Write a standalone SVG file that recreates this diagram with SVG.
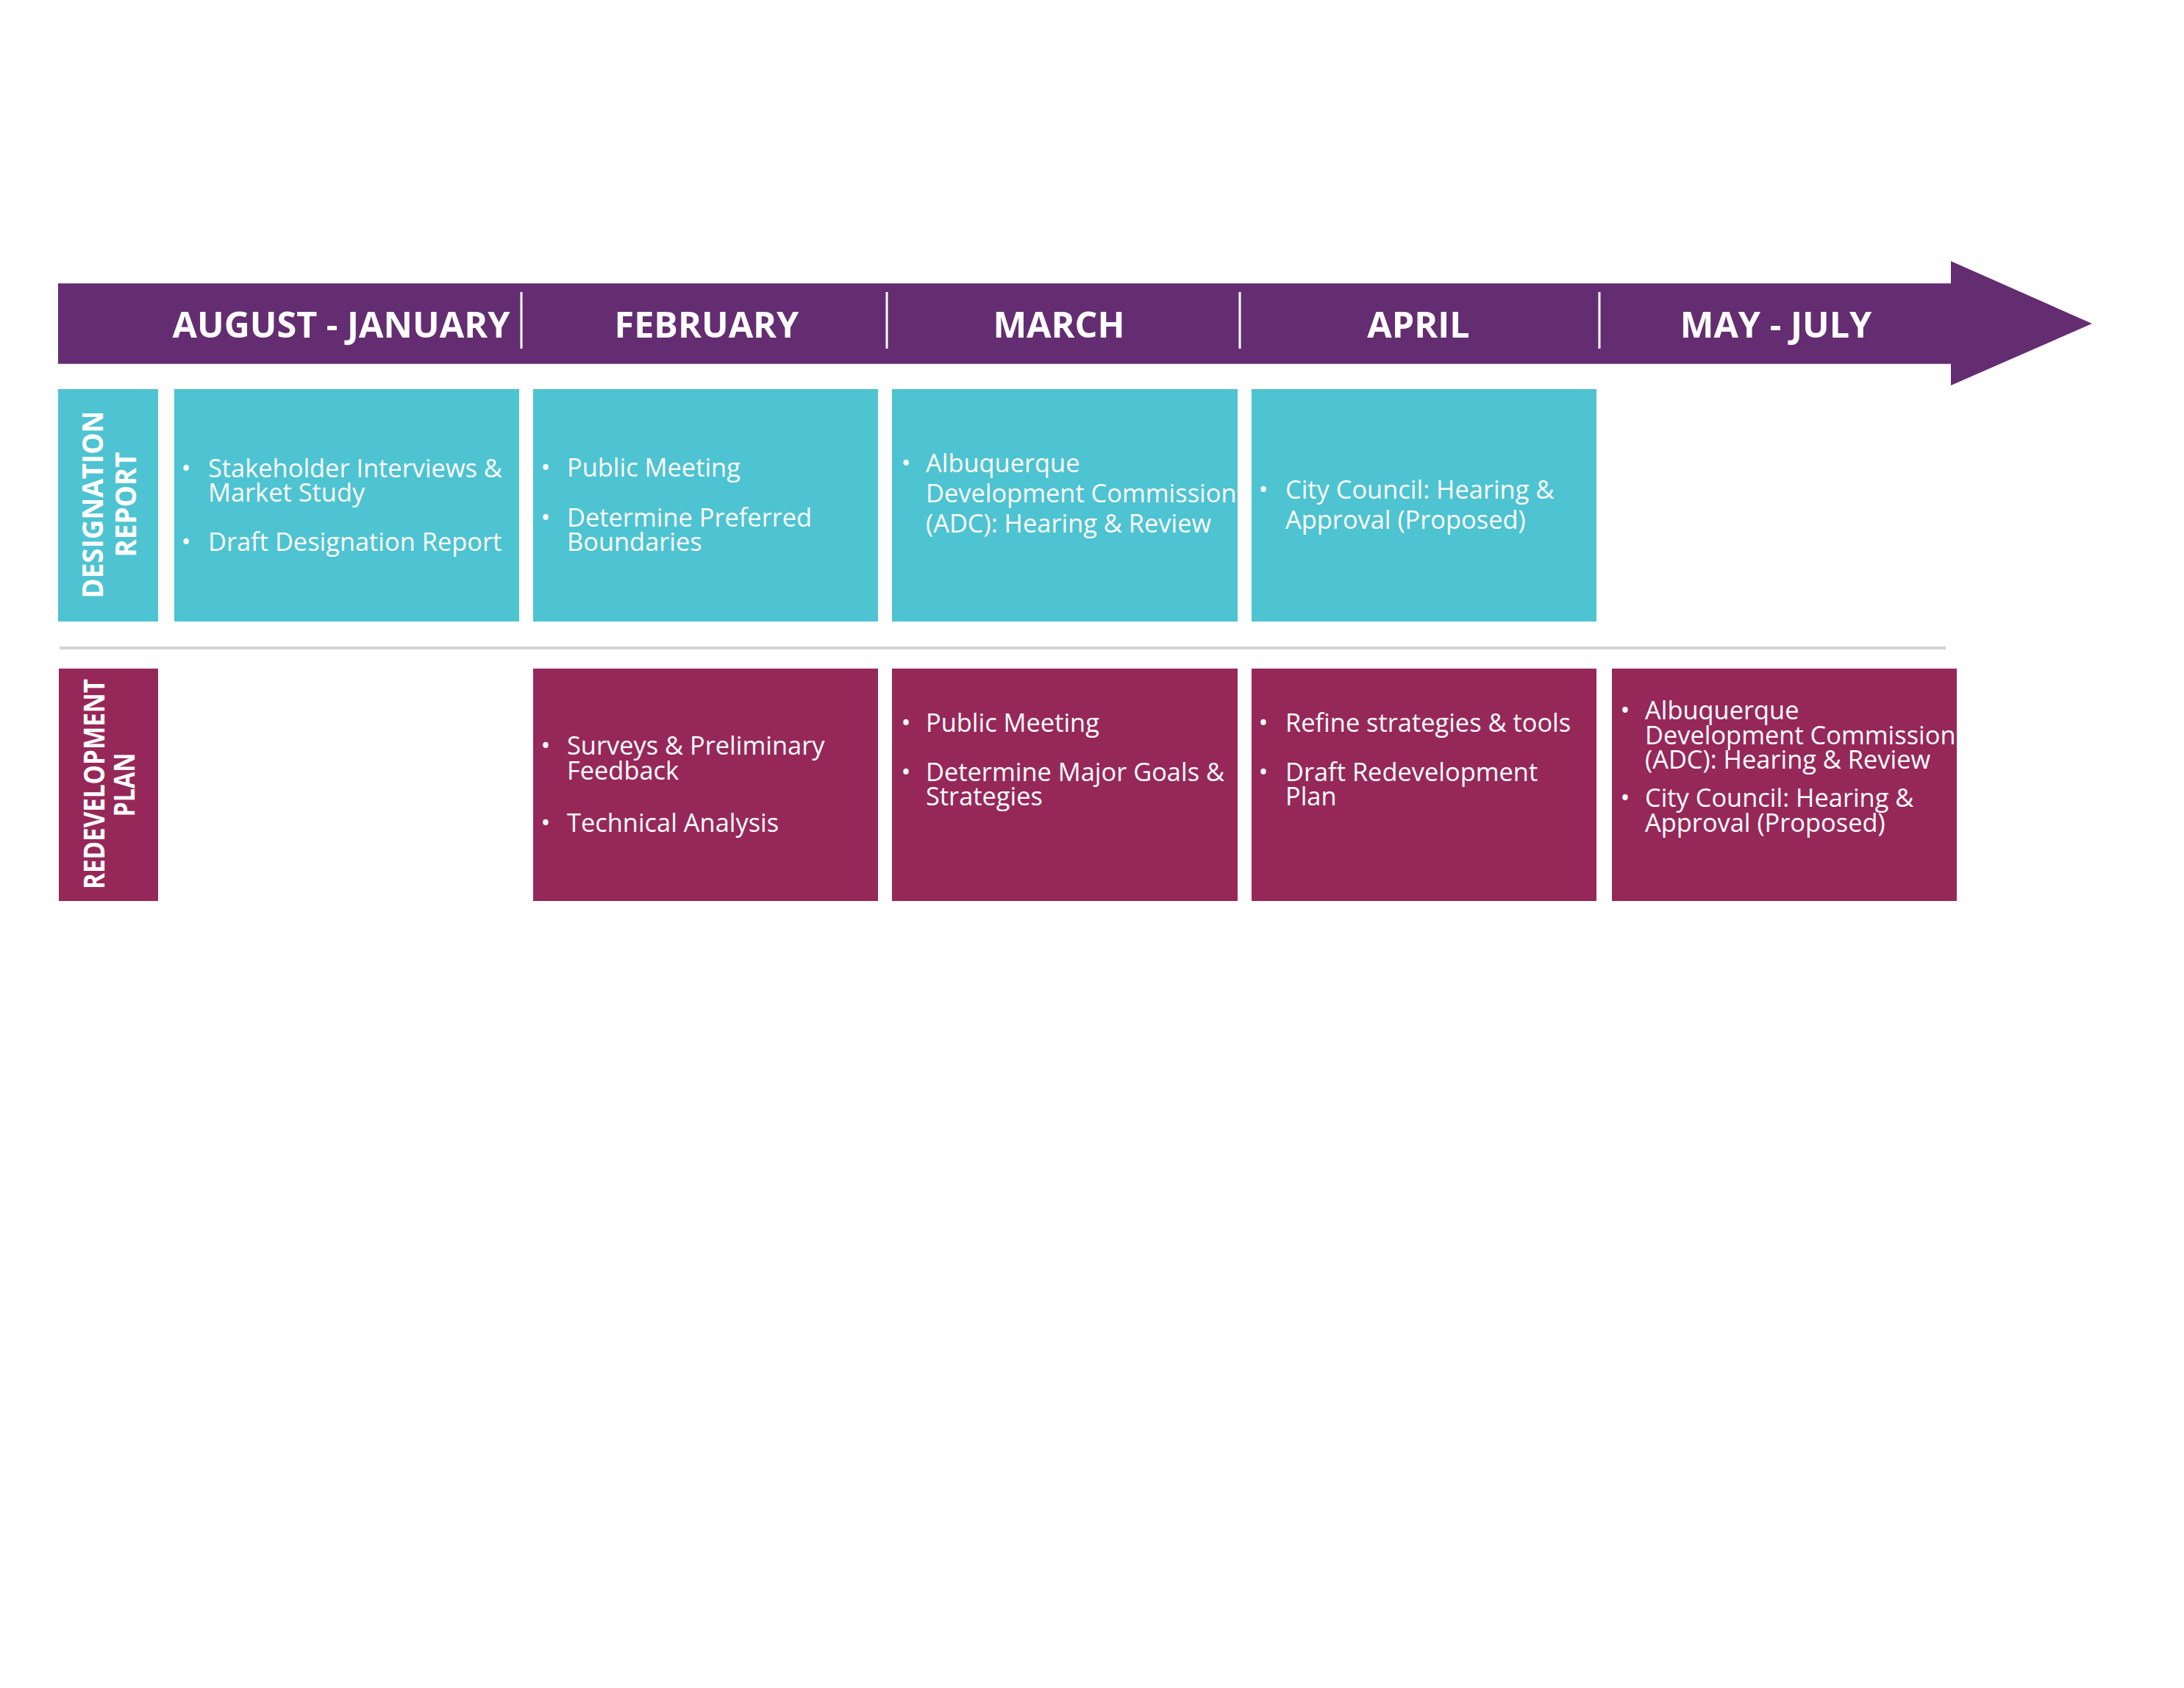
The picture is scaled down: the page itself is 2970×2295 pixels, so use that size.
<svg xmlns="http://www.w3.org/2000/svg" width="2970" height="2295" viewBox="0 0 2970 2295">
<style>
.hdr{font-family:"Open Sans","Liberation Sans",sans-serif;font-weight:700;font-size:48.5px;fill:#fff;text-anchor:middle}
.lbl{font-family:"Open Sans","Liberation Sans",sans-serif;font-weight:700;font-size:39px;fill:#fff;text-anchor:middle}
.t{font-family:"Open Sans","Liberation Sans",sans-serif;font-size:34.4px;fill:#fff}
.teal{fill:#4EC3D1}
.maroon{fill:#962859}
.sep{stroke:#fff;stroke-width:3}
</style>
<rect width="2970" height="2295" fill="#fff"/>
<g id="timeline-arrow">
<polygon points="79,385 2653,385 2653,355 2845,440 2653,524 2653,495 79,495" fill="#642D71"/>
<line x1="79" y1="385.5" x2="2653" y2="385.5" stroke="#8f6a9c" stroke-width="1"/>
<line x1="79" y1="494.5" x2="2653" y2="494.5" stroke="#8f6a9c" stroke-width="1"/>
</g>
<g id="separators">
<line class="sep" x1="709" y1="397" x2="709" y2="474"/>
<line class="sep" x1="1206" y1="397" x2="1206" y2="474"/>
<line class="sep" x1="1686" y1="397" x2="1686" y2="474"/>
<line class="sep" x1="2175" y1="397" x2="2175" y2="474"/>
</g>
<g id="headers">
<text class="hdr" x="464" y="459">AUGUST - JANUARY</text>
<text class="hdr" x="961" y="459">FEBRUARY</text>
<text class="hdr" x="1440" y="459">MARCH</text>
<text class="hdr" x="1929" y="459">APRIL</text>
<text class="hdr" x="2415" y="459">MAY - JULY</text>
</g>
<g id="designation-label">
<rect class="teal" x="79" y="529" width="136" height="316"/>
<text class="lbl" transform="translate(140,686) rotate(-90)" textLength="255" lengthAdjust="spacingAndGlyphs">DESIGNATION</text>
<text class="lbl" transform="translate(185,686) rotate(-90)" textLength="143" lengthAdjust="spacingAndGlyphs">REPORT</text>
</g>
<g id="dr-aug-jan">
<rect class="teal" x="237" y="529" width="469" height="316"/>
<text class="t" x="253" y="649" text-anchor="middle">•</text>
<text class="t" x="283" y="649">Stakeholder Interviews &amp;</text>
<text class="t" x="283" y="682">Market Study</text>
<text class="t" x="253" y="749" text-anchor="middle">•</text>
<text class="t" x="283" y="749">Draft Designation Report</text>
</g>
<g id="dr-feb">
<rect class="teal" x="725" y="529" width="469" height="316"/>
<text class="t" x="742" y="648" text-anchor="middle">•</text>
<text class="t" x="771" y="648">Public Meeting</text>
<text class="t" x="742" y="716" text-anchor="middle">•</text>
<text class="t" x="771" y="716">Determine Preferred</text>
<text class="t" x="771" y="749">Boundaries</text>
</g>
<g id="dr-mar">
<rect class="teal" x="1213" y="529" width="470" height="316"/>
<text class="t" x="1232" y="642" text-anchor="middle">•</text>
<text class="t" x="1259" y="642">Albuquerque</text>
<text class="t" x="1259" y="683">Development Commission</text>
<text class="t" x="1259" y="724">(ADC): Hearing &amp; Review</text>
</g>
<g id="dr-apr">
<rect class="teal" x="1702" y="529" width="469" height="316"/>
<text class="t" x="1718" y="678" text-anchor="middle">•</text>
<text class="t" x="1748" y="678">City Council: Hearing &amp;</text>
<text class="t" x="1748" y="719">Approval (Proposed)</text>
</g>
<g id="divider">
<line x1="81" y1="881" x2="2646" y2="881" stroke="#d3d3d3" stroke-width="4"/>
</g>
<g id="redevelopment-label">
<rect class="maroon" x="80" y="909" width="135" height="316"/>
<text class="lbl" transform="translate(142,1066) rotate(-90)" textLength="286" lengthAdjust="spacingAndGlyphs">REDEVELOPMENT</text>
<text class="lbl" transform="translate(183,1067) rotate(-90)" textLength="87" lengthAdjust="spacingAndGlyphs">PLAN</text>
</g>
<g id="rp-feb">
<rect class="maroon" x="725" y="909" width="469" height="316"/>
<text class="t" x="742" y="1026" text-anchor="middle">•</text>
<text class="t" x="771" y="1026">Surveys &amp; Preliminary</text>
<text class="t" x="771" y="1060">Feedback</text>
<text class="t" x="742" y="1131" text-anchor="middle">•</text>
<text class="t" x="771" y="1131">Technical Analysis</text>
</g>
<g id="rp-mar">
<rect class="maroon" x="1213" y="909" width="470" height="316"/>
<text class="t" x="1232" y="995" text-anchor="middle">•</text>
<text class="t" x="1259" y="995">Public Meeting</text>
<text class="t" x="1232" y="1062" text-anchor="middle">•</text>
<text class="t" x="1259" y="1062">Determine Major Goals &amp;</text>
<text class="t" x="1259" y="1095">Strategies</text>
</g>
<g id="rp-apr">
<rect class="maroon" x="1702" y="909" width="469" height="316"/>
<text class="t" x="1718" y="995" text-anchor="middle">•</text>
<text class="t" x="1748" y="995">Refine strategies &amp; tools</text>
<text class="t" x="1718" y="1062" text-anchor="middle">•</text>
<text class="t" x="1748" y="1062">Draft Redevelopment</text>
<text class="t" x="1748" y="1095">Plan</text>
</g>
<g id="rp-may-jul">
<rect class="maroon" x="2192" y="909" width="469" height="316"/>
<text class="t" x="2210" y="978" text-anchor="middle">•</text>
<text class="t" x="2237" y="978">Albuquerque</text>
<text class="t" x="2237" y="1012">Development Commission</text>
<text class="t" x="2237" y="1045">(ADC): Hearing &amp; Review</text>
<text class="t" x="2210" y="1097" text-anchor="middle">•</text>
<text class="t" x="2237" y="1097">City Council: Hearing &amp;</text>
<text class="t" x="2237" y="1131">Approval (Proposed)</text>
</g>
</svg>
